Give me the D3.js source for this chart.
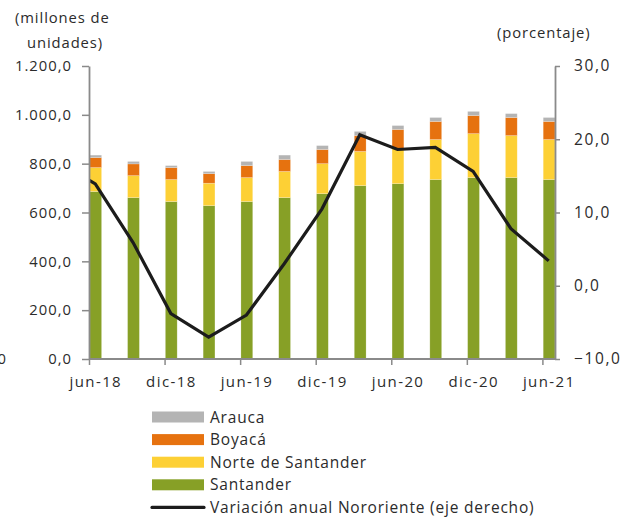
<!DOCTYPE html>
<html>
<head>
<meta charset="utf-8">
<script src="https://cdn.jsdelivr.net/npm/d3@7"></script>
<style>
  html, body { margin: 0; padding: 0; background: #fff; }
  svg { display: block; }
  text { font-family: "Open Sans", sans-serif; fill: #2b2b2b; }
</style>
</head>
<body>
<svg id="chart" width="621" height="521"></svg>
<script>
// ---- data ----
const categories = ["jun-18","sep-18","dic-18","mar-19","jun-19","sep-19","dic-19","mar-20","jun-20","sep-20","dic-20","mar-21","jun-21"];
const santander = [686, 661, 645, 628, 645, 661, 677, 710, 718, 735, 743, 743, 735];
const norteSantander = [98, 90, 90, 92, 98, 107, 123, 140, 145, 164, 180, 172, 164];
const boyaca = [41, 48, 49, 39, 49, 49, 58, 65, 77, 74, 74, 74, 74];
const arauca = [10, 10, 8, 9, 17, 18, 16, 17, 16, 16, 17, 16, 16];
// annual variation (%), first value is mar-18 (outside the visible axis range)
const variationLabels = ["mar-18","jun-18","sep-18","dic-18","mar-19","jun-19","sep-19","dic-19","mar-20","jun-20","sep-20","dic-20","mar-21","jun-21"];
const variation = [17.0, 13.9, 5.9, -3.8, -7.0, -4.0, 3.0, 10.5, 20.6, 18.6, 18.9, 15.6, 7.8, 3.4];
const xTickLabels = ["jun-18","dic-18","jun-19","dic-19","jun-20","dic-20","jun-21"];
const leftTicks = [0, 200, 400, 600, 800, 1000, 1200];
const rightTicks = [-10, 0, 10, 20, 30];

const seriesNames = ["Santander", "Norte de Santander", "Boyacá", "Arauca"];
const seriesColors = ["#87a026", "#fdd035", "#e6720f", "#b4b4b4"];

// ---- layout ----
const svg = d3.select("#chart");
const L = 89, R = 555, T = 66, B = 359;

const locale = d3.formatLocale({decimal: ",", thousands: ".", grouping: [3], currency: ["", ""]});
const fmt = locale.format(",.1f");

// month-based date axis: 0 = jun-18, 37 = jul-21
const x = d3.scaleLinear().domain([0, 37]).range([L, R]);
const yL = d3.scaleLinear().domain([0, 1200]).range([B, T]);
const yR = d3.scaleLinear().domain([-10, 30]).range([B, T]);

const rows = categories.map((c, i) => ({
  cat: c, month: 3 * i,
  "Santander": santander[i], "Norte de Santander": norteSantander[i],
  "Boyacá": boyaca[i], "Arauca": arauca[i]
}));
const stack = d3.stack().keys(seriesNames)(rows);

const barW = x(1) - x(0) - 0.8;
const gBars = svg.append("g");
stack.forEach((s, si) => {
  gBars.selectAll(null).data(s).enter().append("rect")
    .attr("x", d => x(d.data.month) + 0.8)
    .attr("width", barW)
    .attr("y", d => yL(d[1]))
    .attr("height", d => yL(d[0]) - yL(d[1]))
    .attr("fill", seriesColors[si])
    .attr("stroke", "rgba(255,255,255,0.35)")
    .attr("stroke-width", 0.6);
});

// line, clipped to plot area
svg.append("clipPath").attr("id", "plotclip")
  .append("rect").attr("x", L).attr("y", 0).attr("width", R - L + 4).attr("height", 521);
const lineData = variation.map((v, i) => ({m: 3 * (i - 1) + 0.5, v}));
svg.append("path")
  .datum(lineData)
  .attr("clip-path", "url(#plotclip)")
  .attr("fill", "none")
  .attr("stroke", "#1c1c1c")
  .attr("stroke-width", 3.2)
  .attr("stroke-linejoin", "miter")
  .attr("d", d3.line().x(d => x(d.m)).y(d => yR(d.v)));

// ---- axes ----
const axisColor = "#8a8a8a";
function styleAxis(g, size, ls) {
  g.select(".domain").attr("stroke", axisColor).attr("stroke-width", 1.8);
  g.selectAll(".tick line").attr("stroke", axisColor).attr("stroke-width", 1.5);
  g.selectAll(".tick text").style("font-family", "'Open Sans', sans-serif")
    .style("font-size", size + "px").style("letter-spacing", ls + "px").attr("fill", "#2b2b2b");
}

const gL = svg.append("g").attr("transform", `translate(${L},0)`)
  .call(d3.axisLeft(yL).tickValues(leftTicks).tickFormat(fmt).tickSize(7).tickPadding(10).tickSizeOuter(0));
styleAxis(gL, 14.8, 1.0);

const gR = svg.append("g").attr("transform", `translate(${R},0)`)
  .call(d3.axisRight(yR).tickValues(rightTicks).tickFormat(fmt).tickSize(5).tickPadding(14).tickSizeOuter(0));
styleAxis(gR, 15.5, 1.6);

const halfMonth = x(0.5) - x(0);
const gX = svg.append("g").attr("transform", `translate(0,${B})`)
  .call(d3.axisBottom(x).tickValues(xTickLabels.map((t, i) => 6 * i))
    .tickFormat((d, i) => xTickLabels[i]).tickSize(6).tickPadding(11).tickSizeOuter(0));
styleAxis(gX, 15, 1.4);
gX.selectAll(".tick text").attr("x", halfMonth);
gX.select(".domain").attr("d", `M${L},0H${R}`);

// axis titles
const titleStyle = sel => sel.style("font-size", "14.8px").style("letter-spacing", "0.9px");
svg.append("text").attr("x", 15).attr("y", 23).text("(millones  de").call(titleStyle);
svg.append("text").attr("x", 27).attr("y", 48).text("unidades)").call(titleStyle);
svg.append("text").attr("x", 497).attr("y", 38).text("(porcentaje)").call(titleStyle);
// clipped fragment at left edge (as in the reference)
svg.append("text").attr("x", 6).attr("y", 364).attr("text-anchor", "end")
  .style("font-size", "14.8px").text("0");

// ---- legend ----
const legendItems = [
  {name: "Arauca", color: seriesColors[3], type: "rect"},
  {name: "Boyacá", color: seriesColors[2], type: "rect"},
  {name: "Norte de Santander", color: seriesColors[1], type: "rect"},
  {name: "Santander", color: seriesColors[0], type: "rect"},
  {name: "Variación anual Nororiente (eje derecho)", color: "#1c1c1c", type: "line"}
];
const lg = svg.append("g");
legendItems.forEach((it, i) => {
  const cy = 417 + i * 22.6;
  if (it.type === "rect") {
    lg.append("rect").attr("x", 152).attr("y", cy - 5.5).attr("width", 52).attr("height", 11).attr("fill", it.color);
  } else {
    lg.append("line").attr("x1", 152).attr("x2", 204).attr("y1", cy).attr("y2", cy)
      .attr("stroke", it.color).attr("stroke-width", 3.2).attr("stroke-linecap", "round");
  }
  lg.append("text").attr("x", 210).attr("y", cy).attr("dy", "0.36em")
    .style("font-size", "15.5px").style("letter-spacing", "0.8px").text(it.name);
});
</script>
</body>
</html>
